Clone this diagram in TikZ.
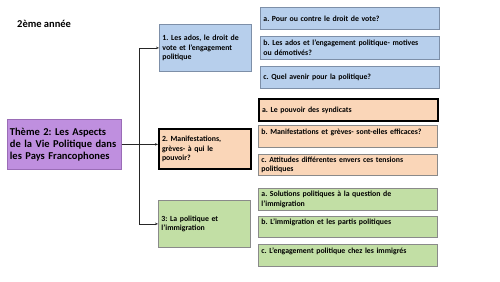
\documentclass[tikz,border=0pt]{standalone}
\usepackage{fontspec}
\setmainfont{Carlito}
\usetikzlibrary{arrows.meta}
\definecolor{bluef}{HTML}{B7CFEC}
\definecolor{blued}{HTML}{7D8FA8}
\definecolor{orangef}{HTML}{FAD6B8}
\definecolor{greenf}{HTML}{C2DFA5}
\definecolor{purplef}{HTML}{BF8FDF}
\definecolor{purpled}{HTML}{9A6CB6}
\definecolor{grayd}{HTML}{8A8A8A}
\tikzset{
  x=1pt,y=-1pt,
  base/.style={rectangle,anchor=north west,inner sep=0pt,align=left,font=\fontsize{7.8}{9.6}\selectfont\bfseries\frenchspacing,text=black},
  lbox/.style={base,minimum width=92pt,text width=86pt},
  rbox/.style={base,minimum width=179pt,text width=173pt,minimum height=22pt},
  bluebox/.style={fill=bluef,draw=blued,line width=0.8pt},
  orbox/.style={fill=orangef,draw=grayd,line width=0.8pt},
  grbox/.style={fill=greenf,draw=grayd,line width=0.8pt},
  thick box/.style={draw=black,line width=2pt},
  conn/.style={draw=black!85,line width=0.8pt,-{Stealth[length=3pt,width=2.5pt]}}
}
\begin{document}
\begin{tikzpicture}
\useasboundingbox (0,0) rectangle (500,281);
\node[anchor=west,inner sep=0pt,font=\fontsize{10.5}{12}\selectfont\bfseries] (title) at (17,24) {2ème année};
\node[base,fill=purplef,draw=purpled,line width=0.8pt,minimum width=114pt,minimum height=50pt,text width=109pt,font=\fontsize{10.5}{12.2}\selectfont\bfseries\frenchspacing] (th) at (7,119) {Thème 2: Les Aspects\\de la Vie Politique dans\\les Pays Francophones};
\node[lbox,bluebox,minimum height=47pt] (b1) at (159,24) {1. Les ados, le droit de\\vote et l’engagement\\politique};
\node[lbox,orbox,thick box,minimum height=40pt] (b2) at (158,128) {2. Manifestations,\\grèves- à qui le\\pouvoir?};
\node[lbox,grbox,minimum height=47pt] (b3) at (158,200) {3: La politique et\\l’immigration};
\node[rbox,bluebox] (a1) at (260,7) {a. Pour ou contre le droit de vote?};
\node[rbox,bluebox,minimum height=23pt] (c1b) at (260,36) {b. Les ados et l’engagement politique- motives\\ou démotivés?};
\node[rbox,bluebox] (c1c) at (260,66) {c. Quel avenir pour la politique?};
\node[rbox,orbox,thick box] (a2) at (258,98) {a. Le pouvoir des syndicats};
\node[rbox,orbox] (b2b) at (258,125) {b. Manifestations et grèves- sont-elles efficaces?\\\mbox{}};
\node[rbox,orbox,minimum height=21pt] (b2c) at (258,154) {c. Attitudes différentes envers ces tensions\\politiques};
\node[rbox,grbox] (a3) at (258,188) {a. Solutions politiques à la question de\\l’immigration};
\node[rbox,grbox,minimum height=21pt] (b3b) at (258,216) {b. L’immigration et les partis politiques\\\mbox{}};
\node[rbox,grbox] (b3c) at (258,244) {c. L’engagement politique chez les immigrés\\\mbox{}};
\draw[conn] (th.east) -- ++(18,0) |- (b1.west);
\draw[conn] (th.east) -- (th.east -| b2.west);
\draw[conn] (th.east) -- ++(18,0) |- (b3.west);
\end{tikzpicture}
\end{document}
